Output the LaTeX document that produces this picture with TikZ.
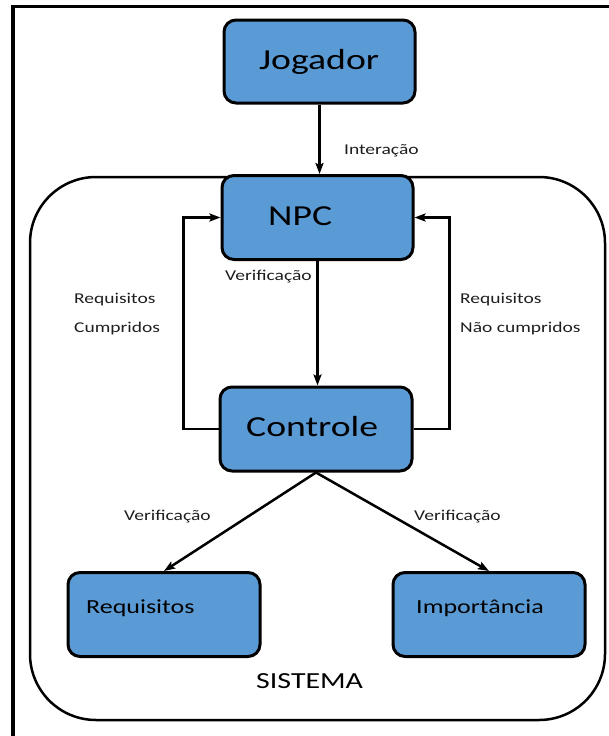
\documentclass[tikz,border=0pt]{standalone}
\usepackage{fontspec}
\setmainfont{Carlito}[FakeStretch=1.3]
\usetikzlibrary{arrows.meta}
\definecolor{boxblue}{HTML}{5B9BD5}
\definecolor{labelink}{HTML}{1E1E1E}
\tikzset{
  block/.style={draw=black, line width=3pt, fill=boxblue, rounded corners=12pt,
    inner sep=0pt, minimum width=#1, minimum height=82pt},
  block/.default=191pt,
  flow/.style={line width=2.5pt, -{Stealth[length=11pt,width=8pt,inset=2pt]}},
  plainline/.style={line width=2.5pt},
  bigtext/.style={font=\fontsize{29}{32}\selectfont, text=black, inner sep=0pt},
  midtext/.style={font=\fontsize{20}{23}\selectfont, text=black, inner sep=0pt},
  systext/.style={font=\fontsize{23}{26}\selectfont, text=black, inner sep=0pt},
  smalltext/.style={font=\fontsize{15}{17}\selectfont, text=labelink, inner sep=0pt, anchor=base west},
}
\begin{document}
\begin{tikzpicture}[x=1pt, y=-1pt]
  \useasboundingbox (0,0) rectangle (608,736);

  % outer frame (only its left and top sides fall on the page)
  \draw[line width=3.5pt] (13,745) -- (13,6.5) -- (615,6.5);

  % the system boundary
  \draw[line width=2.5pt, rounded corners=66pt] (30,177) rectangle (605,720);
  \node[systext, anchor=base west] (sys) at (256,688) {SISTEMA};

  % blocks
  \node[block, minimum height=83pt] (jog) at (319.5,61.5) {};
  \node[block, minimum height=84pt] (npc) at (317.5,217.5) {};
  \node[block, minimum width=192pt, minimum height=84pt] (ctl) at (316,429) {};
  \node[block, minimum width=192pt, minimum height=84pt] (req) at (164,614.5) {};
  \node[block, minimum width=192pt, minimum height=84pt] (imp) at (489,614.5) {};

  % block captions
  \node[bigtext, anchor=base west] (jogt) at (259,69) {Jogador};
  \node[bigtext, anchor=base west] (npct) at (268,225) {NPC};
  \node[bigtext, anchor=base west] (ctlt) at (246,436.5) {Controle};
  \node[midtext, anchor=base west] (reqt) at (86,613) {Requisitos};
  \node[midtext, anchor=base west] (impt) at (416,613) {Importância};

  % connectors
  \draw[flow] (jog.south) -- (jog.south |- npc.north);
  \draw[flow] (npc.south) -- (npc.south |- ctl.north);
  \draw[flow] (ctl.west) -- ++(-35,0) |- (npc.west);
  \draw[flow] (ctl.east) -- ++(36,0) |- (npc.east);
  \draw[flow] (ctl.south) -- (req.north);
  \draw[flow] (ctl.south) -- (imp.north);

  % connector labels
  \node[smalltext] (l1) at (344,154) {Interação};
  \node[smalltext] (l2) at (225,280.5) {Verificação};
  \node[smalltext] (l3) at (74,303) {Requisitos};
  \node[smalltext] (l4) at (74,332) {Cumpridos};
  \node[smalltext] (l5) at (460,303) {Requisitos};
  \node[smalltext] (l6) at (460,332) {Não cumpridos};
  \node[smalltext] (l7) at (124,520) {Verificação};
  \node[smalltext] (l8) at (414,520) {Verificação};
\end{tikzpicture}
\end{document}
